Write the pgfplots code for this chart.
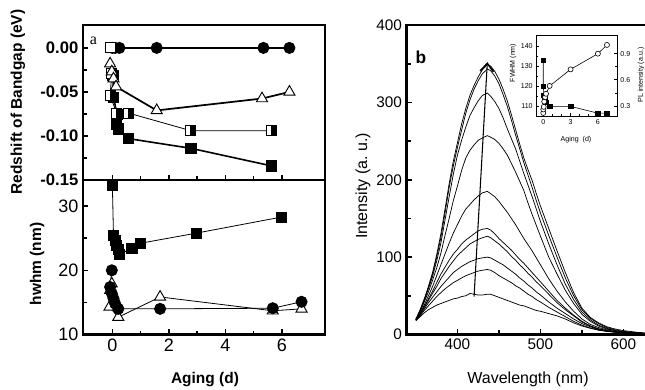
\documentclass[border=0pt]{standalone}
\usepackage{pgfplots}
\pgfplotsset{compat=1.18}
\usepackage{pgfplotstable}
\usepackage{fontspec}
\setmainfont{Liberation Sans}
\newfontfamily\seriffont{Liberation Serif}
\usetikzlibrary{arrows.meta}

\pgfdeclareplotmark{halfsq}{%
  \pgfpathrectangle{\pgfpoint{-\pgfplotmarksize}{-\pgfplotmarksize}}{\pgfpoint{2\pgfplotmarksize}{2\pgfplotmarksize}}%
  \pgfusepathqfillstroke
  \begin{pgfscope}%
  \pgfsetfillcolor{black}%
  \pgfpathrectangle{\pgfpoint{0pt}{-\pgfplotmarksize}}{\pgfpoint{\pgfplotmarksize}{2\pgfplotmarksize}}%
  \pgfusepathqfillstroke
  \end{pgfscope}%
}

\pgfplotstableread{
wl   A    B    C    D    E    F    G    H    I    J
350  20   20   20   19   19   19   19   19   18   18
355  32   31   30   29   28   27   26   25   24   23
360  46   45   44   42   38   36   35   33   31   28
365  62   61   59   55   50   46   44   41   37   32
370  80   78   75   70   62   56   53   48   43   35
375  103  100  95   86   76   67   62   55   49   38
380  130  125  118  105  90   78   72   62   54   40
385  162  157  148  128  104  87   80   68   59   42
390  195  190  178  150  118  96   88   74   63   44
395  224  218  207  173  131  104  95   80   67   46
400  248  242  232  192  142  110  102  84   70   47
405  272  264  251  212  153  117  107  88   73   49
410  292  286  268  228  162  122  112  91   76   50
415  309  303  283  238  168  126  117  94   78   53
420  322  317  293  245  174  130  120  96   80   52
425  333  328  302  251  179  134  123  98   82   51
430  342  337  309  254  183  136  125  99   83   51
436  349  343  312  257  185  137  127  100  84   52
440  347  341  308  255  182  135  125  99   83   52
445  340  334  301  252  178  130  121  96   80   50
450  330  324  292  247  172  124  117  93   76   48
455  317  310  280  240  165  119  112  90   73   46
460  302  295  266  232  158  114  107  86   70   44
465  284  277  253  221  150  109  101  82   67   42
470  265  258  240  210  142  103  96   78   63   40
475  246  240  224  198  133  97   90   73   60   38
480  228  222  208  186  124  92   85   69   56   37
485  213  206  193  170  116  86   79   64   52   35
490  199  190  178  155  108  80   74   60   49   33
495  182  173  162  141  99   74   68   55   45   31
500  166  157  146  127  90   68   63   51   42   30
510  137  128  117  100  72   56   52   42   35   27
520  108  100  90   78   56   44   41   34   29   24
530  80   73   65   57   42   34   32   27   23   20
540  54   50   45   40   30   25   24   20   17   15
550  34   32   29   26   20   17   16   14   12   11
560  22   21   19   17   13   11   11   10   8.5  8
570  15   14   12   11   9    7.5  7    6.5  6    5.5
580  10   9    8    7    6    5    5    4.5  4    4
590  7    6    5    5    4    3.5  3.5  3    3    3
600  5    4    3.5  3    2.5  2.5  2.5  2    2    2
615  3    2.5  2    2    1.5  1.5  1.5  1.3  1.2  1.2
630  1.5  1.2  1    1    0.8  0.8  0.8  0.7  0.7  0.7
650  0.5  0.4  0.4  0.3  0.3  0.3  0.3  0.3  0.3  0.3
}\spectra

\newcommand\fTopTick{\fontsize{12.5}{14}\selectfont\bfseries}
\newcommand\fBotTick{\fontsize{13.5}{15}\selectfont}
\newcommand\fLab{\fontsize{11.6}{13}\selectfont\bfseries}
\newcommand\fRTick{\fontsize{11.5}{13}\selectfont}
\newcommand\fRLab{\fontsize{12}{14}\selectfont}
\newcommand\fIn{\fontsize{5.3}{6}\selectfont}

\pgfplotsset{
  /pgf/number format/assume math mode=true,
  leftpanel/.style={
    scale only axis, width=181.5pt, anchor=north west,
    xmin=-1.04, xmax=7.53,
    tick align=inside, tick pos=left,
    axis line style={line width=2pt},
    tick style={line width=1.2pt, black},
    major tick length=4pt, minor tick length=3pt,
    xtick={0,2,4,6}, minor x tick num=1,
    minor y tick num=1,
    clip=false,
  },
  fsq/.style={black, mark=square*, mark size=3.8pt, mark options={solid, fill=black, line width=0.6pt}},
  fci/.style={black, mark=*, mark size=4.2pt, mark options={solid, fill=black, line width=0.6pt}},
  otr/.style={black, mark=triangle*, mark size=4.8pt, mark options={solid, fill=white, line width=0.7pt}},
  hsq/.style={black, mark=halfsq, mark size=3.8pt, mark options={solid, fill=white, line width=0.7pt}},
}

\begin{document}
\begin{tikzpicture}
\useasboundingbox (0pt,0pt) rectangle (483.75pt,-291.75pt);

% ---------- left top: redshift ----------
\begin{axis}[leftpanel, at={(62.25pt,-18.75pt)}, height=116.25pt,
  ymin=-0.15, ymax=0.026,
  ytick={-0.15,-0.10,-0.05,0.00}, yticklabels={-0.15,-0.10,-0.05,0.00},
  xticklabels={},
  yticklabel style={font=\fTopTick},
]
\addplot[fci, line width=1.5pt] coordinates {(0,0) (0.1,0) (0.25,0) (1.57,0) (5.35,0) (6.27,0)};
\addplot[fsq, line width=1.2pt] coordinates {(0.02,-0.031) (0.04,-0.056) (0.17,-0.076) (0.15,-0.087) (0.21,-0.092) (0.57,-0.103) (2.78,-0.114) (5.64,-0.134)};
\addplot[hsq, line width=0.6pt] coordinates {(-0.02,-0.029) (-0.08,-0.054) (0.15,-0.074) (0.57,-0.074) (2.78,-0.094) (5.64,-0.094)};
\addplot[black, only marks, mark=square*, mark size=3.8pt, mark options={fill=white, line width=0.7pt}] coordinates {(-0.08,0)};
\addplot[otr, line width=1.3pt] coordinates {(-0.08,-0.018) (-0.02,-0.027) (0.04,-0.035) (0.13,-0.044) (1.57,-0.071) (5.3,-0.0575) (6.27,-0.050)};
\end{axis}

% ---------- left bottom: hwhm ----------
\begin{axis}[leftpanel, at={(62.25pt,-135pt)}, height=115.9pt,
  ymin=10, ymax=34.06,
  ytick={10,20,30},
  xticklabels={0,2,4,6},
  tick label style={font=\fBotTick},
]
\addplot[fsq, line width=0.6pt] coordinates {(0,33.3) (0.04,25.4) (0.1,24.7) (0.15,23.9) (0.21,23.2) (0.25,22.5) (0.69,23.4) (0.98,24.2) (2.99,25.8) (6.0,28.3)};
\addplot[otr, line width=0.6pt] coordinates {(-0.02,17.9) (-0.08,16.9) (-0.1,14.3) (0.21,12.7) (1.69,15.85) (5.68,13.7) (6.7,14.0)};
\addplot[fci, line width=0.6pt] coordinates {(-0.02,20.0) (-0.08,17.4) (-0.02,16.4) (0.04,15.6) (0.1,14.8) (0.21,14.0) (1.69,14.0) (5.68,14.1) (6.7,15.1)};
\end{axis}

% ---------- right: PL spectra ----------
\begin{axis}[at={(305pt,-18.75pt)}, anchor=north west, scale only axis,
  width=193.7pt, height=232.1pt,
  xmin=338.8, xmax=650, ymin=0, ymax=400,
  tick align=inside, tick pos=left,
  axis line style={line width=2.2pt},
  tick style={line width=1.3pt, black},
  major tick length=4pt, minor tick length=3pt,
  xtick={400,500,600}, minor x tick num=1,
  ytick={0,100,200,300,400}, minor y tick num=1,
  tick label style={font=\fRTick},
]
\foreach \c in {A,B,C,D,E,F,G,H,I,J}{
  \addplot[black, line width=0.55pt] table[x=wl, y=\c] {\spectra};
}
\addplot[black, line width=0.8pt, -{Straight Barb[length=6pt,width=10pt,line width=1.2pt]}] coordinates {(420,49) (436,352)};
\end{axis}

% ---------- inset ----------
\begin{axis}[at={(402pt,-26.25pt)}, anchor=north west, scale only axis,
  width=60.75pt, height=60.75pt,
  xmin=-0.8, xmax=8.1, ymin=105.2, ymax=145.5,
  axis background/.style={fill=white},
  tick align=inside, xtick pos=left, ytick pos=left,
  axis line style={line width=0.5pt},
  tick style={line width=0.5pt, black},
  major tick length=2pt, minor tick length=1.2pt,
  xtick={0,3,6}, ytick={110,120,130,140},
  minor x tick num=2, minor y tick num=1,
  tick label style={font=\fIn},
  xticklabel style={yshift=1pt}, yticklabel style={xshift=1pt},
]
\addplot[black, line width=0.45pt, mark=square*, mark size=1.7pt, mark options={fill=black}] coordinates {(0,133) (0,120) (0.08,115.5) (0.12,114) (0.18,113) (0.25,112) (0.7,110) (3,110) (6,106.6) (7,106.6)};
\end{axis}
\begin{axis}[at={(402pt,-26.25pt)}, anchor=north west, scale only axis,
  width=60.75pt, height=60.75pt,
  xmin=-0.8, xmax=8.1, ymin=0.185, ymax=1.114,
  tick align=inside, ytick pos=right, xtick=\empty,
  axis line style={line width=0.5pt},
  tick style={line width=0.5pt, black},
  major tick length=2pt, minor tick length=1.2pt,
  ytick={0.3,0.6,0.9}, yticklabels={0.3,0.6,0.9}, minor y tick num=1,
  tick label style={font=\fIn}, yticklabel style={xshift=-1pt},
]
\addplot[black, line width=0.45pt, mark=*, mark size=1.9pt, mark options={fill=white}] coordinates {(0,0.22) (0,0.26) (0.05,0.29) (0.1,0.35) (0.2,0.40) (0.3,0.44) (0.7,0.53) (3,0.72) (6,0.90) (7,1.0)};
\end{axis}

% ---------- labels ----------
\node[rotate=90, font=\fLab] at (13.5pt,-76.5pt) {Redshift of Bandgap (eV)};
\node[rotate=90, font=\fLab] at (27.75pt,-198pt) {hwhm (nm)};
\node[font=\fLab] at (153.75pt,-285pt) {Aging (d)};
\node[font=\seriffont\fontsize{12}{14}\selectfont] at (70.1pt,-30.4pt) {a};
\node[rotate=90, font=\fRLab] at (272.25pt,-139.5pt) {Intensity (a.\ u.)};
\node[font=\fRLab] at (396pt,-284.25pt) {Wavelength (nm)};
\node[font=\fontsize{13}{15}\selectfont\bfseries] at (315.75pt,-42.75pt) {b};
\node[rotate=90, font=\fIn] at (384.75pt,-47.25pt) {FWHM (nm)};
\node[rotate=90, font=\fIn] at (480.75pt,-56.25pt) {PL intensity (a.u.)};
\node[font=\fIn] at (432pt,-105pt) {Aging\ \ (d)};
\end{tikzpicture}
\end{document}
